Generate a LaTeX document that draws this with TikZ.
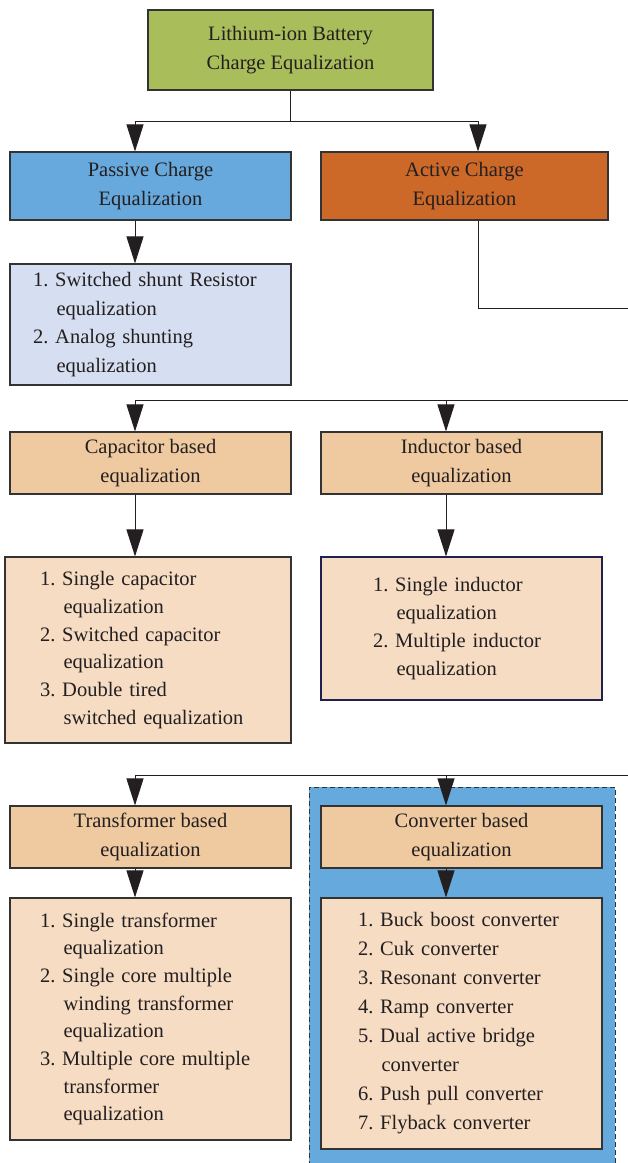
\documentclass[tikz,border=0pt]{standalone}
\usepackage{xcolor}
\usepackage{fontspec}
\setmainfont{Liberation Serif}
\usepackage{tikz}
\usetikzlibrary{arrows.meta,positioning}
\definecolor{RootGreen} {HTML}{A9BD5A}
\definecolor{PassBlue}  {HTML}{67A9DC}
\definecolor{ActOrange} {HTML}{CC6828}
\definecolor{PassList}  {HTML}{D6DFF1}
\definecolor{TypeTan}   {HTML}{EFC9A0}
\definecolor{TypeList}  {HTML}{F6DCC3}
\definecolor{ConvPanel} {HTML}{66A9DC}
\definecolor{EdgeGray}  {HTML}{333333}
\definecolor{EdgeNavy}  {HTML}{1F2150}
\definecolor{TipBlack}  {HTML}{231F20}
\newcommand{\wrapind}{\hspace*{1.15em}}

\begin{document}
\begin{tikzpicture}[x=1pt,y=-1pt,
    font=\rmfamily\fontsize{20.5}{28.5}\selectfont,
    box/.style={draw=EdgeGray,line width=1.1pt,inner sep=0pt,align=center,
                minimum width=281pt,text=TipBlack},
    listbox/.style={draw=EdgeGray,line width=1.1pt,inner ysep=0pt,align=left,
                fill=TypeList,text=TipBlack},
    arr/.style={-{Triangle[length=27pt,width=17pt]},line width=1pt,draw=TipBlack,fill=TipBlack},
    wire/.style={line width=1pt,draw=TipBlack}]
  \useasboundingbox (0,0) rectangle (628,1163);

  \fill[ConvPanel] (309,787) rectangle (615,1166);
  \draw[EdgeGray,line width=0.9pt,dash pattern=on 5pt off 3pt]
    (309,1166) -- (309,787) -- (615,787) -- (615,1166);

  \node[box,fill=RootGreen,minimum width=285pt,minimum height=80pt] (root) at (290.5,50)
    {Lithium-ion Battery\\Charge Equalization};
  \node[box,fill=PassBlue,minimum height=68pt] (passive) at (150.5,186)
    {Passive Charge\\Equalization};
  \node[box,fill=ActOrange,minimum width=287pt,minimum height=68pt] (active) at (464.5,186)
    {Active Charge\\Equalization};
  \node[listbox,fill=PassList,inner xsep=23pt,text width=235pt,minimum height=121pt]
    (plist) at (150.5,324.5)
    {1.~Switched shunt Resistor\\\wrapind equalization\\2.~Analog shunting\\\wrapind equalization};

  \node[box,fill=TypeTan,minimum height=62pt] (cap) at (150.5,463)
    {Capacitor based\\equalization};
  \node[box,fill=TypeTan,minimum height=62pt] (ind) at (461.5,463)
    {Inductor based\\equalization};
  \node[listbox,inner xsep=35pt,text width=216pt,minimum height=186pt,
        font=\rmfamily\fontsize{20.5}{27.8}\selectfont] (clist) at (148,650)
    {1.~Single capacitor\\\wrapind equalization\\2.~Switched capacitor\\\wrapind equalization\\3.~Double tired\\\wrapind switched equalization};
  \node[listbox,draw=EdgeNavy,inner xsep=52pt,text width=177pt,minimum height=143pt,
        font=\rmfamily\fontsize{20.5}{28}\selectfont] (ilist) at (461.5,628.5)
    {1.~Single inductor\\\wrapind equalization\\2.~Multiple inductor\\\wrapind equalization};

  \node[box,fill=TypeTan,minimum height=62pt] (trans) at (150.5,837)
    {Transformer based\\equalization};
  \node[box,fill=TypeTan,minimum height=62pt] (conv) at (461.5,837)
    {Converter based\\equalization};
  \node[listbox,inner xsep=30pt,text width=221pt,minimum height=242pt,
        font=\rmfamily\fontsize{20.5}{27.7}\selectfont] (tlist) at (150.5,1019)
    {1.~Single transformer\\\wrapind equalization\\2.~Single core multiple\\\wrapind winding transformer\\\wrapind equalization\\3.~Multiple core multiple\\\wrapind transformer\\\wrapind equalization};
  \node[listbox,inner xsep=37pt,text width=207pt,minimum height=251pt,
        font=\rmfamily\fontsize{20.5}{29}\selectfont] (vlist) at (461.5,1023.5)
    {1.~Buck boost converter\\2.~Cuk converter\\3.~Resonant converter\\4.~Ramp converter\\5.~Dual active bridge\\\wrapind converter\\6.~Push pull converter\\7.~Flyback converter};

  \coordinate (jl) at (135,121);
  \coordinate (jr) at (478,121);
  \coordinate (e1) at (628,308);
  \coordinate (e2) at (628,400);
  \coordinate (b2l) at (135,400);
  \coordinate (b2r) at (446,400);
  \coordinate (e3) at (628,775);
  \coordinate (b3l) at (135,775);
  \coordinate (b3r) at (446,775);

  \draw[wire] (root.south) -- (root.south |- jl);
  \draw[wire] (jl) -- (jr);
  \draw[arr] (jl) -- (jl |- passive.north);
  \draw[arr] (jr) -- (jr |- active.north);
  \draw[arr] (jl |- passive.south) -- (jl |- plist.north);
  \draw[wire] (jr |- active.south) |- (e1);

  \draw[wire] (e2) -- (b2l);
  \draw[arr] (b2l) -- (b2l |- cap.north);
  \draw[arr] (b2r) -- (b2r |- ind.north);
  \draw[arr] (b2l |- cap.south) -- (b2l |- clist.north);
  \draw[arr] (b2r |- ind.south) -- (b2r |- ilist.north);

  \draw[wire] (e3) -- (b3l);
  \draw[arr] (b3l) -- (b3l |- trans.north);
  \draw[arr] (b3r) -- (b3r |- conv.north);
  \draw[arr] (b3l |- trans.south) -- (b3l |- tlist.north);
  \draw[arr] (b3r |- conv.south) -- (b3r |- vlist.north);
\end{tikzpicture}
\end{document}
